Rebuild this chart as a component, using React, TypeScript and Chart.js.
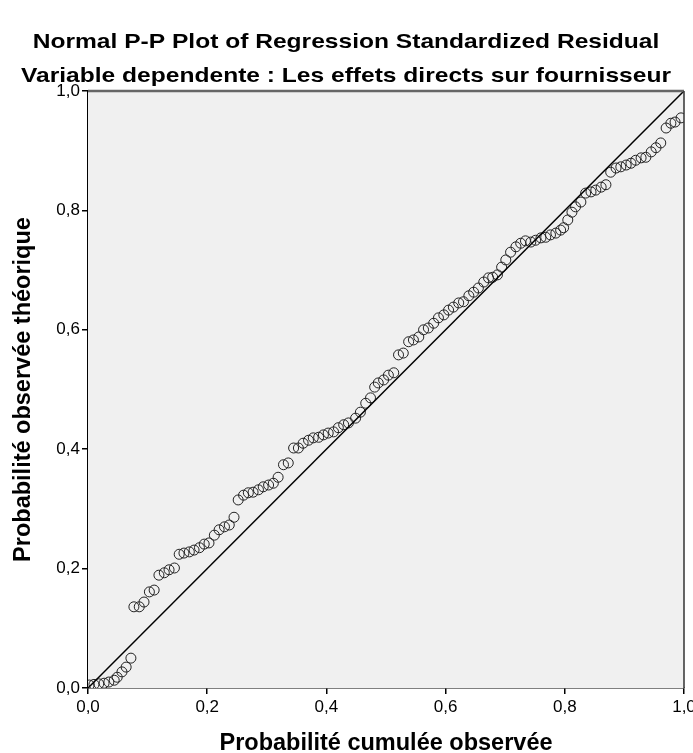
import React, { useEffect, useRef } from "react";
import { Chart, registerables } from "chart.js";

Chart.register(...registerables);

const titleLines = [
  "Normal P-P Plot of Regression Standardized Residual",
  "Variable dependente : Les effets directs sur fournisseur",
];
const xAxisTitle = "Probabilité cumulée observée";
const yAxisTitle = "Probabilité observée théorique";
const tickLabels = ["0,0", "0,2", "0,4", "0,6", "0,8", "1,0"];

// Observed cumulative probability (x) and expected cumulative probability (y)
const observedCum = [
  0.002, 0.010, 0.018, 0.027, 0.035, 0.044, 0.049, 0.057, 0.064, 0.072,
  0.077, 0.086, 0.094, 0.103, 0.111, 0.119, 0.128, 0.136, 0.145, 0.153,
  0.161, 0.170, 0.178, 0.187, 0.195, 0.203, 0.212, 0.220, 0.229, 0.237,
  0.245, 0.252, 0.261, 0.269, 0.277, 0.286, 0.294, 0.303, 0.311, 0.319,
  0.328, 0.336, 0.345, 0.353, 0.361, 0.370, 0.378, 0.387, 0.395, 0.403,
  0.412, 0.420, 0.429, 0.437, 0.449, 0.457, 0.466, 0.474, 0.481, 0.487,
  0.496, 0.504, 0.513, 0.521, 0.529, 0.538, 0.546, 0.555, 0.563, 0.571,
  0.580, 0.588, 0.597, 0.605, 0.613, 0.622, 0.630, 0.639, 0.647, 0.655,
  0.664, 0.672, 0.679, 0.687, 0.694, 0.701, 0.709, 0.718, 0.726, 0.734,
  0.743, 0.751, 0.760, 0.768, 0.776, 0.785, 0.793, 0.798, 0.805, 0.812,
  0.818, 0.827, 0.835, 0.844, 0.852, 0.861, 0.869, 0.877, 0.886, 0.894,
  0.903, 0.911, 0.919, 0.928, 0.936, 0.945, 0.953, 0.961, 0.970, 0.978,
  0.985, 0.995,
];
const expectedCum = [
  0.005, 0.006, 0.007, 0.008, 0.010, 0.013, 0.018, 0.027, 0.035, 0.050,
  0.136, 0.136, 0.144, 0.161, 0.164, 0.189, 0.193, 0.198, 0.201, 0.224,
  0.226, 0.228, 0.231, 0.235, 0.241, 0.243, 0.256, 0.265, 0.270, 0.273,
  0.286, 0.315, 0.323, 0.327, 0.328, 0.332, 0.337, 0.340, 0.343, 0.353,
  0.374, 0.377, 0.402, 0.402, 0.410, 0.415, 0.419, 0.420, 0.424, 0.427,
  0.429, 0.436, 0.441, 0.444, 0.452, 0.462, 0.477, 0.486, 0.504, 0.511,
  0.516, 0.524, 0.528, 0.558, 0.561, 0.580, 0.583, 0.588, 0.600, 0.603,
  0.611, 0.620, 0.625, 0.633, 0.638, 0.645, 0.647, 0.657, 0.663, 0.670,
  0.680, 0.687, 0.688, 0.692, 0.705, 0.717, 0.730, 0.739, 0.745, 0.749,
  0.747, 0.750, 0.754, 0.755, 0.759, 0.762, 0.767, 0.771, 0.784, 0.797,
  0.806, 0.814, 0.829, 0.831, 0.834, 0.839, 0.843, 0.864, 0.871, 0.873,
  0.876, 0.879, 0.884, 0.888, 0.889, 0.898, 0.905, 0.913, 0.938, 0.946,
  0.948, 0.955,
];
const diagonalX = [0, 1];
const diagonalY = [0, 1];

const FONT = '"Liberation Sans", Arial, sans-serif';

const framePlugin = {
  id: "spssFrame",
  beforeDatasetsDraw(chart: any) {
    const { ctx, chartArea } = chart;
    const { left, top, right, bottom } = chartArea;
    ctx.save();
    ctx.fillStyle = "#f0f0f0";
    ctx.fillRect(left, top, right - left, bottom - top);
    ctx.restore();
  },
  afterDraw(chart: any) {
    const { ctx, chartArea } = chart;
    const { left, top, right, bottom } = chartArea;
    ctx.save();
    ctx.strokeStyle = "#666666";
    ctx.lineWidth = 2.5;
    ctx.beginPath();
    ctx.moveTo(left, top);
    ctx.lineTo(right, top);
    ctx.stroke();
    ctx.strokeStyle = "#333333";
    ctx.lineWidth = 1.5;
    ctx.beginPath();
    ctx.moveTo(right, top);
    ctx.lineTo(right, bottom);
    ctx.stroke();
    ctx.fillStyle = "#000000";
    ctx.font = "bold 21px " + FONT;
    ctx.textAlign = "center";
    ctx.textBaseline = "middle";
    const ys = [42, 76];
    titleLines.forEach((t, i) => {
      ctx.save();
      ctx.translate(346, ys[i]);
      ctx.scale(1.17, 1);
      ctx.fillText(t, 0, 0);
      ctx.restore();
    });
    ctx.restore();
  },
};

export default function App() {
  const ref = useRef<HTMLCanvasElement>(null);
  useEffect(() => {
    if (!ref.current) return;
    const points = observedCum.map((x, i) => ({ x, y: expectedCum[i] }));
    const diag = diagonalX.map((x, i) => ({ x, y: diagonalY[i] }));
    const chart = new Chart(ref.current, {
      type: "scatter",
      data: {
        datasets: [
          {
            type: "line",
            data: diag,
            borderColor: "#000000",
            borderWidth: 1.5,
            pointRadius: 0,
            fill: false,
            clip: 0,
          } as any,
          {
            data: points,
            pointRadius: 5,
            pointBorderWidth: 1,
            borderColor: "#222222",
            backgroundColor: "rgba(0,0,0,0)",
            pointHoverRadius: 5,
            clip: 0,
          } as any,
        ],
      },
      plugins: [framePlugin],
      options: {
        responsive: false,
        animation: false,
        devicePixelRatio: 1,
        layout: { padding: { top: 91, right: 0, left: 0, bottom: 0 } },
        plugins: {
          legend: { display: false },
          tooltip: { enabled: false },
          title: { display: false },
        },
        scales: {
          x: {
            type: "linear",
            min: 0,
            max: 1,
            afterFit: (s: any) => {
              s.height = 65;
              s.paddingRight = 9;
              s.paddingLeft = 0;
            },
            ticks: {
              stepSize: 0.2,
              color: "#000000",
              padding: 3,
              font: { family: FONT, size: 17 },
              maxRotation: 0,
              callback: (_v: any, i: number) => tickLabels[i],
            },
            grid: {
              drawOnChartArea: false,
              drawTicks: true,
              tickLength: 6,
              color: "#000000",
              lineWidth: 1.5,
            },
            border: { display: true, color: "#000000", width: 1.5 },
            title: {
              display: true,
              text: xAxisTitle,
              color: "#000000",
              font: { family: FONT, size: 23.5, weight: "bold", lineHeight: 0.8 },
              padding: { top: 0, bottom: 0 },
            },
          },
          y: {
            type: "linear",
            min: 0,
            max: 1,
            afterFit: (s: any) => {
              s.width = 88;
            },
            ticks: {
              stepSize: 0.2,
              color: "#000000",
              padding: 2,
              font: { family: FONT, size: 17 },
              callback: (_v: any, i: number) => tickLabels[i],
            },
            grid: {
              drawOnChartArea: false,
              drawTicks: true,
              tickLength: 6,
              color: "#000000",
              lineWidth: 1.5,
            },
            border: { display: true, color: "#000000", width: 1.5 },
            title: {
              display: true,
              text: yAxisTitle,
              color: "#000000",
              font: { family: FONT, size: 23.5, weight: "bold", lineHeight: 0.8 },
              padding: { top: 14, bottom: 0 },
            },
          },
        },
      } as any,
    });
    return () => chart.destroy();
  }, []);
  return (
    <div style={{ position: "absolute", left: 0, top: 0, width: 693, height: 753 }}>
      <canvas ref={ref} width={693} height={753} style={{ display: "block", width: 693, height: 753 }} />
    </div>
  );
}
